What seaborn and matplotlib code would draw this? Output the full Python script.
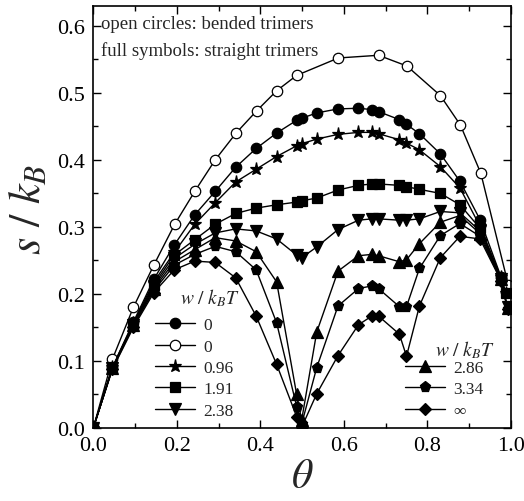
import matplotlib
matplotlib.use("Agg")
import matplotlib.pyplot as plt
import seaborn as sns
from matplotlib.ticker import MultipleLocator

# coverage values (shared by the straight-trimer curves)
theta_full = [0.0, 0.046, 0.096, 0.145, 0.194, 0.243, 0.292, 0.341, 0.390, 0.439,
              0.487, 0.499, 0.535, 0.586, 0.635, 0.667, 0.683, 0.733, 0.750, 0.781,
              0.831, 0.878, 0.926, 0.976]
theta_end_a = 0.988
theta_end_b = 0.992

# bended trimers (open circles)
theta_open = [0.0, 0.046, 0.096, 0.145, 0.195, 0.244, 0.292, 0.342, 0.391, 0.439,
              0.487, 0.587, 0.683, 0.751, 0.831, 0.879, 0.928, 0.994]
s_open = [0.0, 0.103, 0.180, 0.243, 0.304, 0.354, 0.400, 0.440, 0.473, 0.503,
          0.526, 0.552, 0.556, 0.540, 0.496, 0.452, 0.380, 0.213]

# straight trimers (full symbols)
s_w0 = [0.0, 0.091, 0.158, 0.222, 0.273, 0.318, 0.353, 0.389, 0.417, 0.440, 0.459, 0.462,
        0.470, 0.476, 0.477, 0.475, 0.472, 0.460, 0.453, 0.439, 0.409, 0.368, 0.311, 0.226, 0.203]
s_w096 = [0.0, 0.091, 0.156, 0.218, 0.262, 0.304, 0.336, 0.367, 0.386, 0.405, 0.421, 0.424,
          0.431, 0.438, 0.441, 0.441, 0.439, 0.430, 0.425, 0.415, 0.390, 0.358, 0.301, 0.225, 0.202]
s_w191 = [0.0, 0.090, 0.155, 0.214, 0.258, 0.281, 0.304, 0.320, 0.328, 0.333, 0.337, 0.339,
          0.343, 0.355, 0.362, 0.364, 0.364, 0.362, 0.360, 0.356, 0.350, 0.333, 0.298, 0.224, 0.201]
s_w238 = [0.0, 0.090, 0.154, 0.211, 0.253, 0.274, 0.291, 0.297, 0.294, 0.282, 0.258, 0.254,
          0.270, 0.296, 0.310, 0.312, 0.312, 0.310, 0.310, 0.312, 0.323, 0.321, 0.294, 0.223, 0.180]
s_w286 = [0.0, 0.089, 0.153, 0.208, 0.248, 0.266, 0.284, 0.279, 0.263, 0.218, 0.050, 0.012,
          0.143, 0.234, 0.257, 0.259, 0.257, 0.248, 0.251, 0.275, 0.307, 0.317, 0.290, 0.222, 0.179]
s_w334 = [0.0, 0.089, 0.152, 0.205, 0.243, 0.259, 0.271, 0.263, 0.236, 0.157, 0.032, 0.006,
          0.090, 0.182, 0.208, 0.212, 0.208, 0.181, 0.181, 0.238, 0.287, 0.305, 0.286, 0.221, 0.178]
s_winf = [0.0, 0.088, 0.150, 0.202, 0.236, 0.249, 0.247, 0.224, 0.167, 0.095, 0.017, 0.001,
          0.051, 0.108, 0.154, 0.167, 0.167, 0.140, 0.107, 0.182, 0.254, 0.286, 0.282, 0.220, 0.177]

labels_left = ["0", "0", "0.96", "1.91", "2.38"]
labels_right = ["2.86", "3.34", "\u221e"]

sns.set_style("ticks")
plt.rcParams["font.family"] = ["Liberation Serif", "DejaVu Serif"]
plt.rcParams["mathtext.fontset"] = "stix"

fig = plt.figure(figsize=(5.24, 5.02), dpi=100)
ax = fig.add_axes([0.178, 0.1454, 0.797, 0.8413])

ta = theta_full + [theta_end_a]
tb = theta_full + [theta_end_b]
series = [
    (ta, s_w0, "o", "black"),
    (theta_open, s_open, "o", "white"),
    (ta, s_w096, "*", "black"),
    (ta, s_w191, "s", "black"),
    (tb, s_w238, "v", "black"),
    (tb, s_w286, "^", "black"),
    (tb, s_w334, "p", "black"),
    (tb, s_winf, "D", "black"),
]
sizes = {"o": 7.5, "*": 9.5, "s": 6.8, "v": 8, "^": 8, "p": 8, "D": 6.3}

handles = []
for th, s, m, fc in series:
    sns.lineplot(x=th, y=s, ax=ax, color="black", lw=1.0, marker=m,
                 markersize=sizes[m], markerfacecolor=fc, markeredgecolor="black",
                 markeredgewidth=0.9, estimator=None, sort=False)
    handles.append(ax.lines[-1])

ax.set_xlim(0, 1.0)
ax.set_ylim(0, 0.63)
ax.xaxis.set_major_locator(MultipleLocator(0.2))
ax.xaxis.set_minor_locator(MultipleLocator(0.1))
ax.yaxis.set_major_locator(MultipleLocator(0.1))
ax.yaxis.set_minor_locator(MultipleLocator(0.05))
ax.xaxis.set_major_formatter(plt.FormatStrFormatter("%.1f"))
ax.yaxis.set_major_formatter(plt.FormatStrFormatter("%.1f"))
ax.tick_params(which="both", direction="in", top=True, right=True, width=1.0,
               labelsize=16, color="black", labelcolor="black")
ax.tick_params(which="major", length=6, pad=6)
ax.tick_params(which="minor", length=3.5)
for sp in ax.spines.values():
    sp.set_linewidth(1.2)
    sp.set_color("black")

ax.set_xlabel(r"$\theta$", fontsize=30)
ax.set_ylabel(r"$s\ /\ k_{B}$", fontsize=32)
ax.xaxis.set_label_coords(0.5, -0.07)
ax.yaxis.set_label_coords(-0.105, 0.52)

ax.text(0.018, 0.957, "open circles: bended trimers", transform=ax.transAxes,
        fontsize=13.5, va="center", ha="left")
ax.text(0.018, 0.894, "full symbols: straight trimers", transform=ax.transAxes,
        fontsize=13.5, va="center", ha="left")

leg_kw = dict(frameon=False, fontsize=12.5, handlelength=2.3, handletextpad=0.5,
              labelspacing=0.3, borderpad=0, borderaxespad=0, loc="lower left")
leg1 = ax.legend(handles=handles[:5], labels=labels_left,
                 bbox_to_anchor=(0.148, 0.022), **leg_kw)
ax.add_artist(leg1)
ax.legend(handles=handles[5:], labels=labels_right,
          bbox_to_anchor=(0.746, 0.022), **leg_kw)

ax.text(0.28, 0.31, r"$w\ /\ k_{B}T$", transform=ax.transAxes, fontsize=14,
        ha="center", va="center")
ax.text(0.89, 0.187, r"$w\ /\ k_{B}T$", transform=ax.transAxes, fontsize=14,
        ha="center", va="center")

fig.savefig("out.png", dpi=100)
